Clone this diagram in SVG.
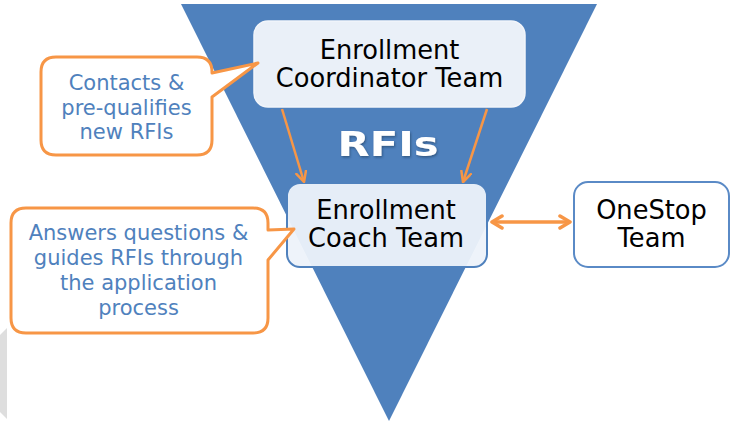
<svg xmlns="http://www.w3.org/2000/svg" width="736" height="423" viewBox="0 0 736 423">
  <defs>
    <style>
      .team { font-family: "DejaVu Sans", Verdana, sans-serif; font-size: 25.7px; fill: #000; text-anchor: middle; }
      .note { font-family: "DejaVu Sans", Verdana, sans-serif; font-size: 21px; fill: #4F81BD; text-anchor: middle; }
      .callout { fill: #FFFFFF; stroke: #F79646; stroke-width: 3; stroke-linejoin: round; }
      .conn { fill: none; stroke: #F79646; stroke-width: 2.5; }
      .conn2 { fill: none; stroke: #F79646; stroke-width: 3.5; }
    </style>
    <marker id="ah" viewBox="0 0 12 12" refX="11" refY="6" markerWidth="12" markerHeight="12" markerUnits="userSpaceOnUse" orient="auto-start-reverse">
      <path d="M1,1 L11,6 L1,11" fill="none" stroke="#F79646" stroke-width="2.5" stroke-linecap="round" stroke-linejoin="round"/>
    </marker>
    <marker id="ah2" viewBox="0 0 14 16" refX="12" refY="8" markerWidth="14" markerHeight="16" markerUnits="userSpaceOnUse" orient="auto-start-reverse">
      <path d="M2,2 L12,8 L2,14" fill="none" stroke="#F79646" stroke-width="3.5" stroke-linecap="round" stroke-linejoin="round"/>
    </marker>
    <filter id="sh" x="-10%" y="-10%" width="130%" height="140%">
      <feDropShadow dx="1" dy="1.5" stdDeviation="1" flood-color="#1F3A5F" flood-opacity="0.6"/>
    </filter>
  </defs>

  <rect width="736" height="423" fill="#FFFFFF"/>

  <g id="funnel">
    <polygon points="181,4 597,4 389,421" fill="#4F81BD"/>
  </g>

  <g id="grey-sliver">
    <polygon points="0,335 7,328 7,419 0,412" fill="#DEDEDE"/>
  </g>

  <g id="rfis-label">
    <text x="388" y="156" font-family="'DejaVu Sans', Verdana, sans-serif" font-weight="bold" font-size="34" fill="#FFFFFF" text-anchor="middle" textLength="101" lengthAdjust="spacingAndGlyphs" filter="url(#sh)">RFIs</text>
  </g>

  <g id="coordinator-team">
    <rect x="254" y="21" width="271" height="86" rx="14" fill="#EAF0F8" stroke="#F2F5FA" stroke-width="1.5"/>
    <text class="team" x="389.5" y="59">Enrollment</text>
    <text class="team" x="389.5" y="87">Coordinator Team</text>
  </g>

  <g id="coach-team">
    <rect x="287" y="183" width="200" height="84" rx="13" fill="#EDF2FA" fill-opacity="0.95" stroke="#4F81BD" stroke-width="2"/>
    <text class="team" x="386" y="219">Enrollment</text>
    <text class="team" x="386" y="247">Coach Team</text>
  </g>

  <g id="onestop-team">
    <rect x="574" y="182" width="155" height="85" rx="14" fill="#FFFFFF" stroke="#5A8AC6" stroke-width="2"/>
    <text class="team" x="651.5" y="219">OneStop</text>
    <text class="team" x="651.5" y="247">Team</text>
  </g>

  <g id="callout-contacts">
    <path class="callout" d="M56,57 H197 Q212,57 212,72 V73 L258,63 L212,97 V140 Q212,155 197,155 H56 Q41,155 41,140 V72 Q41,57 56,57 Z"/>
    <text class="note" x="126.5" y="90">Contacts &amp;</text>
    <text class="note" x="126.5" y="114.5">pre-qualifies</text>
    <text class="note" x="126.5" y="139">new RFIs</text>
  </g>

  <g id="callout-answers">
    <path class="callout" d="M26,208 H253 Q268,208 268,223 V230 L294,229 L268,260 V318 Q268,333 253,333 H26 Q11,333 11,318 V223 Q11,208 26,208 Z"/>
    <text class="note" x="138.5" y="240">Answers questions &amp;</text>
    <text class="note" x="138.5" y="265">guides RFIs through</text>
    <text class="note" x="138.5" y="290">the application</text>
    <text class="note" x="138.5" y="315">process</text>
  </g>

  <g id="connectors">
    <line class="conn" x1="282" y1="109" x2="304" y2="182" marker-end="url(#ah)"/>
    <line class="conn" x1="487" y1="109" x2="463" y2="182" marker-end="url(#ah)"/>
    <line class="conn2" x1="492" y1="222" x2="570" y2="222" marker-start="url(#ah2)" marker-end="url(#ah2)"/>
  </g>
</svg>
